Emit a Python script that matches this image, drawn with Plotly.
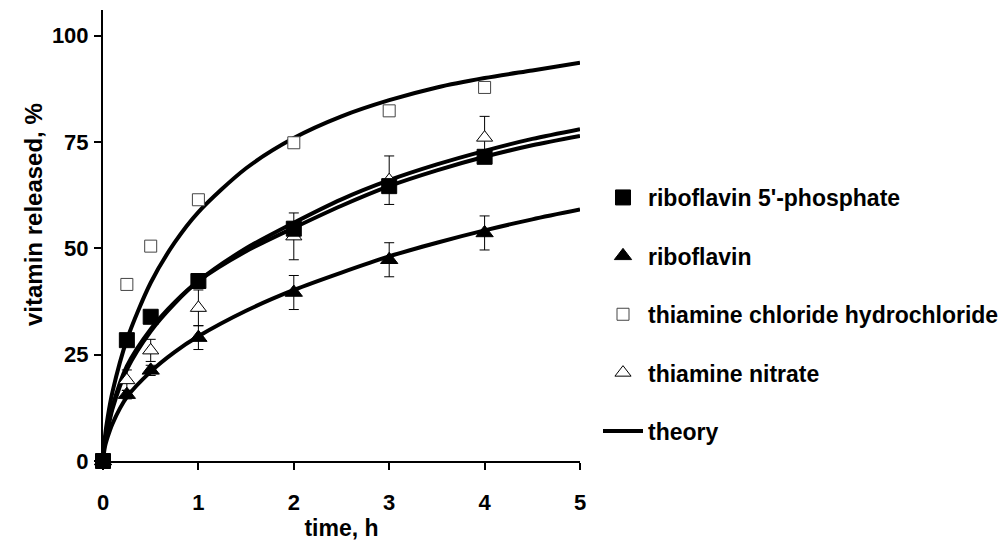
import plotly.graph_objects as go

# Sampling times (h) for the measured release data
time_h = [0, 0.25, 0.5, 1, 2, 3, 4]

# Measured release (%) and standard deviations
phosphate = [0, 28.4, 33.9, 42.3, 54.6, 64.6, 71.5]
phosphate_err = [0, 0.8, 0.8, 1.0, 1.5, 1.5, 1.0]

riboflavin = [0, 15.6, 21.3, 29.0, 39.6, 47.3, 53.6]
riboflavin_err = [0, 1.0, 1.2, 2.8, 4.0, 4.0, 4.0]

thiamine_hcl = [0, 41.5, 50.5, 61.4, 74.8, 82.3, 87.8]
thiamine_hcl_err = [0, 1.0, 1.0, 1.0, 0.8, 1.0, 0.8]

thiamine_nitrate = [0, 19.0, 26.0, 36.0, 52.8, 66.0, 76.0]
thiamine_nitrate_err = [0, 2.4, 2.6, 4.2, 5.5, 5.7, 5.0]

# Model curves (theory)
theory_t = [0, 0.02, 0.05, 0.1, 0.25, 0.5, 0.75, 1, 1.5, 2, 2.5, 3, 3.5, 4, 4.5, 5]
theory_hcl = [0, 5.6, 10.4, 16.3, 28.5, 41.9, 51.3, 58.5, 68.8, 75.9, 81.0, 84.8, 87.8, 90.0, 91.8, 93.6]
theory_nitrate = [0, 4.6, 7.5, 12.3, 21.5, 30.5, 37.0, 42.3, 50.0, 56.0, 61.5, 66.0, 69.7, 72.9, 75.7, 78.0]
theory_phosphate = [0, 4.9, 8.0, 12.9, 22.3, 31.0, 37.3, 42.3, 49.3, 54.8, 60.0, 64.6, 68.3, 71.5, 74.2, 76.4]
theory_riboflavin = [0, 3.3, 5.7, 8.8, 15.0, 21.0, 25.6, 29.3, 35.3, 40.2, 44.3, 48.1, 51.3, 54.2, 56.8, 59.1]

FONT = "Liberation Sans, Arial, sans-serif"
fig = go.Figure()

# Theory curves drawn first so that the markers sit on top
curves = [theory_hcl, theory_nitrate, theory_phosphate, theory_riboflavin]
for i, vals in enumerate(curves):
    fig.add_trace(go.Scatter(
        x=theory_t, y=vals, mode="lines",
        line=dict(color="black", width=4, shape="spline", smoothing=0.8),
        name="theory", showlegend=(i == 0), legendrank=5, legendgroup="theory",
        hoverinfo="skip",
    ))

def series(y, err, name, symbol, fill, size, rank, line_color="black"):
    fig.add_trace(go.Scatter(
        x=time_h, y=y, mode="markers", name=name,
        marker=dict(symbol=symbol, size=size, color=fill,
                    line=dict(color=line_color, width=1)),
        error_y=dict(type="data", array=err, color="black", thickness=1, width=5),
        legendrank=rank, legendgroup=name, cliponaxis=False,
    ))

series(thiamine_hcl, thiamine_hcl_err, "thiamine chloride hydrochloride", "square", "white", 12, 3, "#444")
series(thiamine_nitrate, thiamine_nitrate_err, "thiamine nitrate", "triangle-up", "white", 14, 4)
series(riboflavin, riboflavin_err, "riboflavin", "triangle-up", "black", 15, 2)
series(phosphate, phosphate_err, "riboflavin 5'-phosphate", "square", "black", 15, 1)

tick_font = dict(family=FONT, size=22, color="black", weight="bold")
title_font = dict(family=FONT, size=23, color="black", weight="bold")

fig.update_layout(
    width=1003, height=541,
    margin=dict(l=103, r=423, t=10, b=80, autoexpand=False),
    paper_bgcolor="white", plot_bgcolor="white",
    font=dict(family=FONT, color="black"),
    showlegend=True,
    legend=dict(
        x=(598 - 103) / 477, xanchor="left",
        y=(461 - 176) / 451, yanchor="top",
        traceorder="grouped", tracegroupgap=25.5, itemwidth=40,
        font=dict(family=FONT, size=23, color="black", weight="bold"),
        bgcolor="rgba(0,0,0,0)", borderwidth=0,
    ),
    xaxis=dict(
        range=[0, 5], tickvals=[0, 1, 2, 3, 4, 5],
        showline=True, linecolor="black", linewidth=2,
        ticks="outside", ticklen=7, tickwidth=2, tickcolor="black",
        showgrid=False, zeroline=False, tickfont=tick_font,
        ticklabelstandoff=14,
        title=dict(text="time, h", font=title_font, standoff=14),
    ),
    yaxis=dict(
        range=[0, 106], tickvals=[0, 25, 50, 75, 100],
        showline=True, linecolor="black", linewidth=2,
        ticks="outside", ticklen=7, tickwidth=2, tickcolor="black",
        showgrid=False, zeroline=False, tickfont=tick_font,
        ticklabelstandoff=1,
    ),
    annotations=[dict(
        text="vitamin released, %", textangle=-90,
        xref="paper", yref="paper",
        x=(33 - 103) / 477, y=(461 - 215) / 451,
        xanchor="center", yanchor="middle", showarrow=False,
        font=dict(family=FONT, size=24, color="black", weight="bold"),
    )],
)

fig.write_html("out.html")
